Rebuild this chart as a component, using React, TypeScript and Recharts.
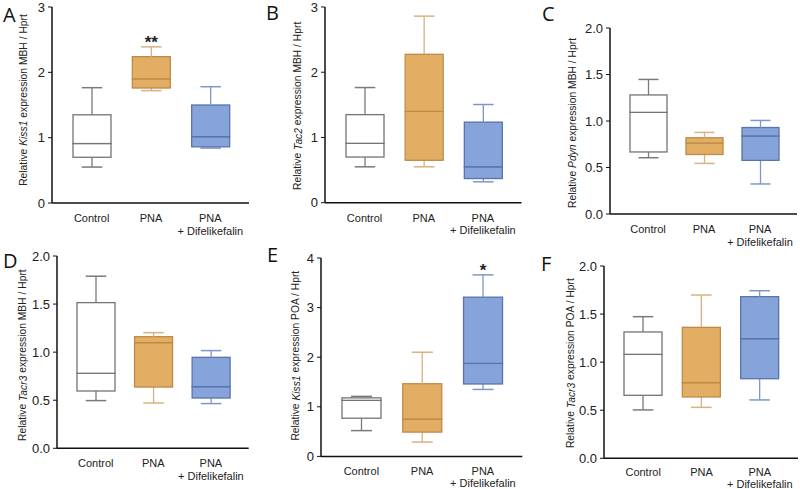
import { ComposedChart, Bar, XAxis, YAxis } from "recharts";

const groups = ["Control", "PNA", "PNA\n+ Difelikefalin"];

// each row: [min, q1, median, q3, max]
const kiss1Mbh = [
  [0.55, 0.7, 0.91, 1.35, 1.765],
  [1.72, 1.76, 1.9, 2.24, 2.39],
  [0.84, 0.86, 1.015, 1.5, 1.78],
];
const tac2Mbh = [
  [0.55, 0.7, 0.91, 1.35, 1.765],
  [0.55, 0.65, 1.4, 2.275, 2.86],
  [0.32, 0.37, 0.55, 1.235, 1.505],
];
const pdynMbh = [
  [0.605, 0.667, 1.093, 1.28, 1.447],
  [0.544, 0.64, 0.763, 0.82, 0.877],
  [0.323, 0.577, 0.839, 0.93, 1.006],
];
const tacr3Mbh = [
  [0.496, 0.596, 0.78, 1.515, 1.79],
  [0.471, 0.637, 1.099, 1.161, 1.203],
  [0.465, 0.523, 0.641, 0.946, 1.016],
];
const kiss1Poa = [
  [0.52, 0.77, 1.13, 1.18, 1.21],
  [0.29, 0.49, 0.753, 1.465, 2.1],
  [1.35, 1.46, 1.875, 3.21, 3.66],
];
const tacr3Poa = [
  [0.503, 0.655, 1.081, 1.314, 1.473],
  [0.53, 0.638, 0.787, 1.362, 1.698],
  [0.607, 0.828, 1.244, 1.681, 1.743],
];

const ticks3 = [0, 1, 2, 3];
const ticks4 = [0, 1, 2, 3, 4];
const ticksHalf = [0, 0.5, 1, 1.5, 2];

const sigA = ["", "**", ""];
const sigE = ["", "", "*"];
const noSig = ["", "", ""];

const boxFill = ["#ffffff", "#E2AE63", "#86A4DA"];
const boxStroke = ["#747474", "#BF8A47", "#5874AC"];
const whiskerStroke = ["#7a7a7a", "#D8B282", "#7F97C6"];

const FONT = "'Liberation Sans', Arial, sans-serif";

const makeRows = (stats: number[][], sig: string[]) =>
  groups.map((g, i) => {
    const s = stats[i];
    return {
      group: g,
      base: s[0],
      lw: s[1] - s[0],
      lb: s[2] - s[1],
      ub: s[3] - s[2],
      uw: s[4] - s[3],
      sig: sig[i],
    };
  });

const Whisker = (props: any) => {
  const { x, y, width, height, index, side, payload } = props;
  const cx = x + width / 2;
  const cap = width * 0.27;
  const capY = side === "up" ? y : y + height;
  const col = whiskerStroke[index];
  return (
    <g>
      <line x1={cx} x2={cx} y1={y} y2={y + height} stroke={col} strokeWidth={1.3} />
      <line x1={cx - cap} x2={cx + cap} y1={capY} y2={capY} stroke={col} strokeWidth={1.5} />
      {side === "up" && payload.sig ? (
        <text
          x={cx}
          y={capY + 1}
          textAnchor="middle"
          fontSize={17}
          fontWeight="bold"
          fontFamily={FONT}
          fill="#222"
        >
          {payload.sig}
        </text>
      ) : null}
    </g>
  );
};

const Box = (props: any) => {
  const { x, y, width, height, index } = props;
  return (
    <rect
      x={x}
      y={y}
      width={width}
      height={height}
      fill={boxFill[index]}
      stroke={boxStroke[index]}
      strokeWidth={1.3}
    />
  );
};

const CatTick = (props: any) => {
  const { x, y, payload, firstDy, lineGap } = props;
  const lines = String(payload.value).split("\n");
  return (
    <text x={x} y={y + firstDy} textAnchor="middle" fontSize={11} fontFamily={FONT} fill="#222">
      {lines.map((l: string, i: number) => (
        <tspan key={i} x={x} dy={i === 0 ? 0 : lineGap}>
          {l}
        </tspan>
      ))}
    </text>
  );
};

type PanelProps = {
  rows: any[];
  ticks: number[];
  yMax: number;
  gene: string;
  region: string;
  letter: string;
  axisX: number;
  axisEnd: number;
  yTop: number;
  y0: number;
  labelDx: number;
  labelDy: number;
  barSize: number;
  decimals: number;
  firstDy?: number;
  lineGap?: number;
};

const Panel = (p: PanelProps) => {
  const yAxisW = 45;
  const mTop = 10;
  const xAxisH = 40;
  const mRight = 2;
  const width = p.axisEnd - p.axisX + yAxisW + mRight;
  const height = p.y0 - p.yTop + mTop + xAxisH;
  const renderLabel = (lp: any) => {
    const vb = lp.viewBox;
    const lx = vb.x + vb.width + p.labelDx;
    const ly = vb.y + vb.height / 2 + p.labelDy;
    return (
      <text
        x={lx}
        y={ly}
        transform={`rotate(-90, ${lx}, ${ly})`}
        textAnchor="middle"
        dominantBaseline="central"
        fontSize={10.3}
        fontFamily={FONT}
        fill="#222"
      >
        Relative <tspan fontStyle="italic">{p.gene}</tspan> expression {p.region} / Hprt
      </text>
    );
  };
  return (
    <div
      style={{
        position: "absolute",
        left: p.axisX - yAxisW,
        top: p.yTop - mTop,
      }}
    >
      <ComposedChart
        width={width}
        height={height}
        data={p.rows}
        margin={{ top: mTop, right: mRight, left: 0, bottom: 0 }}
        barSize={p.barSize}
      >
        <XAxis
          dataKey="group"
          height={xAxisH}
          tickLine={false}
          tickSize={0}
          axisLine={{ stroke: "#111", strokeWidth: 1.5 }}
          padding={{ left: 10, right: 9 }}
          interval={0}
          tick={(tp: any) => (
            <CatTick {...tp} firstDy={p.firstDy ?? 17} lineGap={p.lineGap ?? 12.5} />
          )}
        />
        <YAxis
          width={yAxisW}
          domain={[0, p.yMax]}
          ticks={p.ticks}
          tickSize={4}
          tickMargin={3}
          axisLine={{ stroke: "#111", strokeWidth: 1.5 }}
          tickLine={{ stroke: "#111" }}
          tickFormatter={(v: number) => v.toFixed(p.decimals)}
          tick={{ fontSize: 13, fontFamily: FONT, fill: "#222" }}
          label={{ content: renderLabel }}
        />
        <Bar dataKey="base" stackId="b" fill="none" isAnimationActive={false} />
        <Bar
          dataKey="lw"
          stackId="b"
          isAnimationActive={false}
          shape={(sp: any) => <Whisker {...sp} side="down" />}
        />
        <Bar dataKey="lb" stackId="b" isAnimationActive={false} shape={(sp: any) => <Box {...sp} />} />
        <Bar dataKey="ub" stackId="b" isAnimationActive={false} shape={(sp: any) => <Box {...sp} />} />
        <Bar
          dataKey="uw"
          stackId="b"
          isAnimationActive={false}
          shape={(sp: any) => <Whisker {...sp} side="up" />}
        />
      </ComposedChart>
    </div>
  );
};

const Letter = ({ text, x, y }: { text: string; x: number; y: number }) => (
  <div
    style={{
      position: "absolute",
      left: x,
      top: y,
      fontFamily: "'Open Sans', sans-serif",
      fontSize: 20,
      lineHeight: "20px",
      color: "#111",
    }}
  >
    {text}
  </div>
);

export default function App() {
  return (
    <div
      style={{
        position: "absolute",
        left: 0,
        top: 0,
        width: 800,
        height: 489,
        overflow: "hidden",
        background: "#fff",
      }}
    >
      <Panel rows={makeRows(kiss1Mbh, sigA)} ticks={ticks3} yMax={3} gene="Kiss1" region="MBH" letter="A"
        axisX={52} axisEnd={249} yTop={7} y0={203} labelDx={-29} labelDy={-5} barSize={38} decimals={0} />
      <Panel rows={makeRows(tac2Mbh, noSig)} ticks={ticks3} yMax={3} gene="Tac2" region="MBH" letter="B"
        axisX={324.5} axisEnd={521} yTop={7.3} y0={203} labelDx={-27.5} labelDy={1} barSize={38} decimals={0} />
      <Panel rows={makeRows(pdynMbh, noSig)} ticks={ticksHalf} yMax={2} gene="Pdyn" region="MBH" letter="C"
        axisX={610} axisEnd={797} yTop={28.3} y0={214.3} labelDx={-38} labelDy={2} barSize={37} decimals={1} />
      <Panel rows={makeRows(tacr3Mbh, noSig)} ticks={ticksHalf} yMax={2} gene="Tacr3" region="MBH" letter="D"
        axisX={57.3} axisEnd={249} yTop={255.7} y0={448} labelDx={-34} labelDy={3} barSize={38} decimals={1} />
      <Panel rows={makeRows(kiss1Poa, sigE)} ticks={ticks4} yMax={4} gene="Kiss1" region="POA" letter="E"
        axisX={320.7} axisEnd={522} yTop={258.3} y0={456.7} labelDx={-25} labelDy={-1.5} barSize={39} decimals={0}
        firstDy={16.5} lineGap={12} />
      <Panel rows={makeRows(tacr3Poa, noSig)} ticks={ticksHalf} yMax={2} gene="Tacr3" region="POA" letter="F"
        axisX={604} axisEnd={798} yTop={266} y0={458.3} labelDx={-33} labelDy={1} barSize={38} decimals={1}
        firstDy={16} lineGap={11.3} />
      <Letter text="A" x={3} y={5} />
      <Letter text="B" x={266} y={3} />
      <Letter text="C" x={542} y={4} />
      <Letter text="D" x={3} y={251} />
      <Letter text="E" x={267} y={245} />
      <Letter text="F" x={541} y={254} />
    </div>
  );
}
